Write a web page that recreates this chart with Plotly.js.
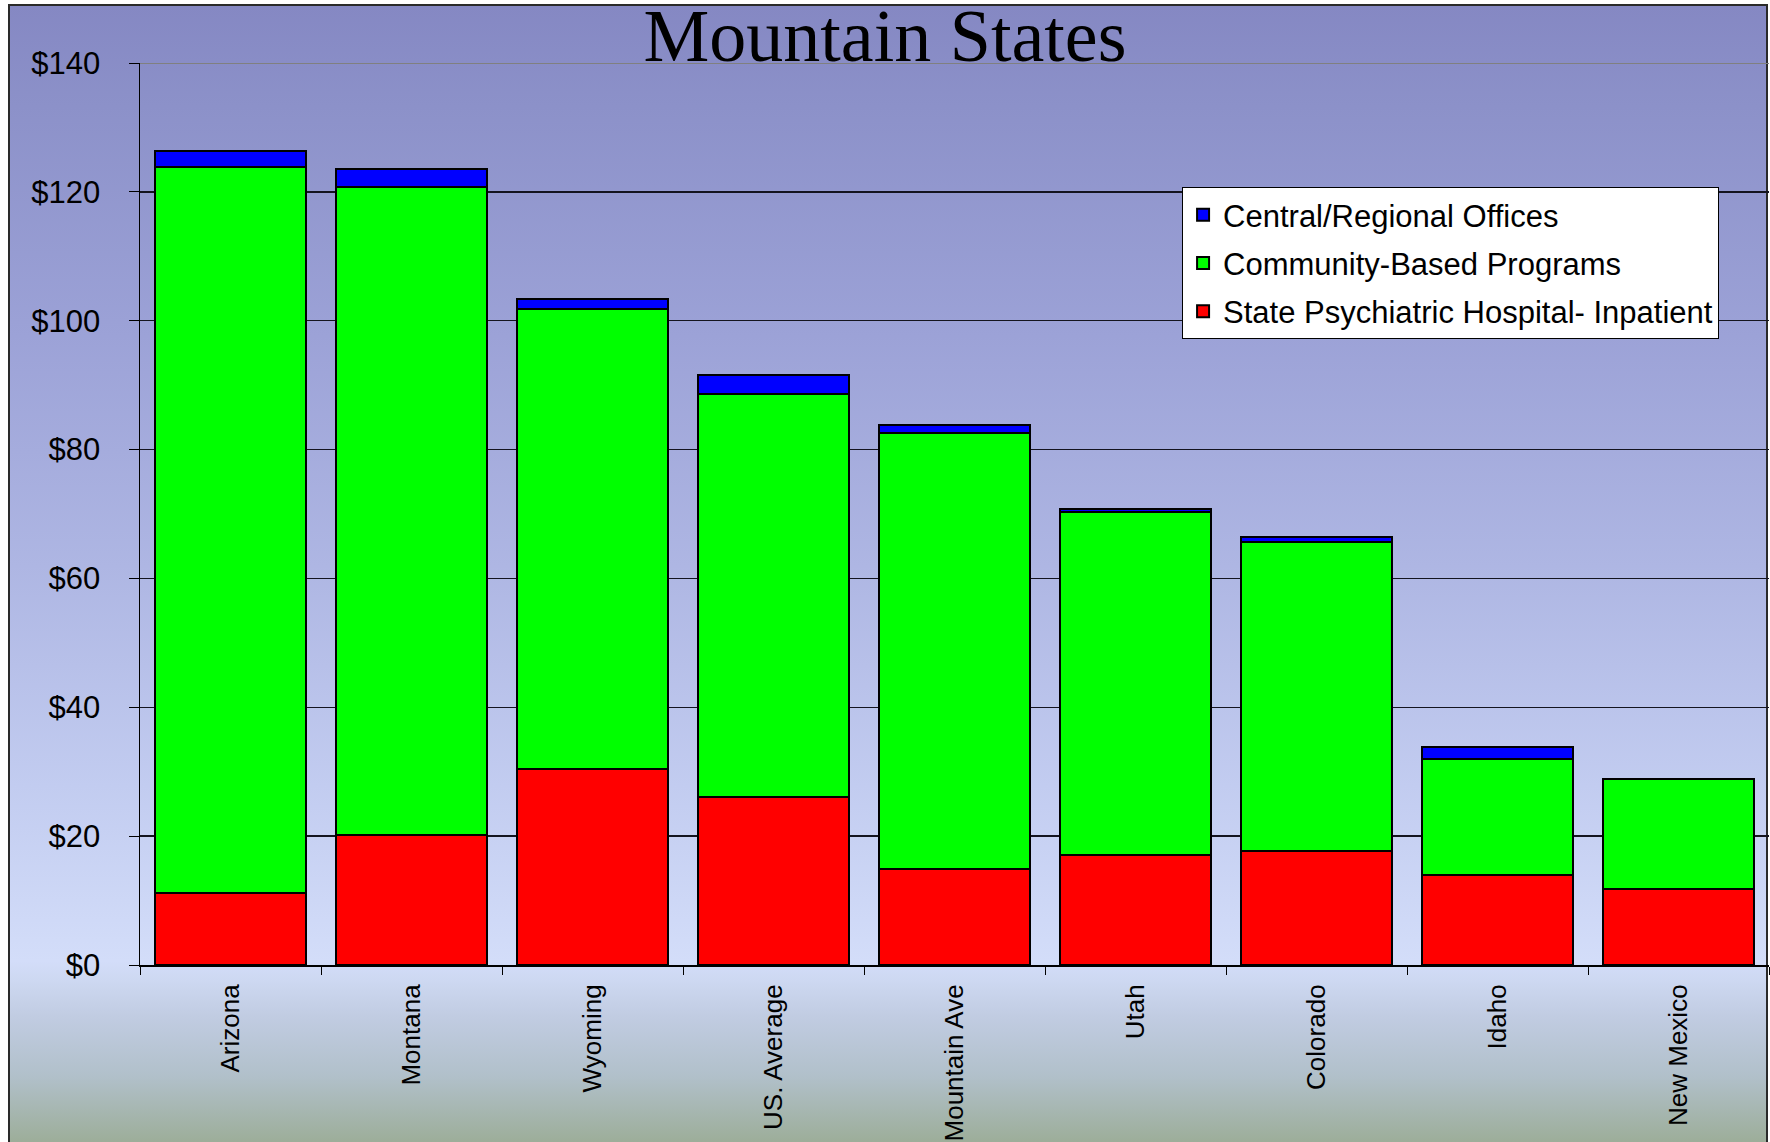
<!DOCTYPE html>
<html>
<head>
<meta charset="utf-8">
<script src="https://cdn.plot.ly/plotly-3.0.1.min.js"></script>
<style>
  html, body { margin: 0; padding: 0; background: #ffffff; }
  #wrap { position: relative; width: 1770px; height: 1142px; overflow: hidden; background: #ffffff; }
  #frame {
    position: absolute; left: 8px; top: 4px; width: 1760px; height: 1160px;
    border: 2px solid #2a2a2a; box-sizing: border-box;
    background: linear-gradient(to bottom,
      #8588C3 0px, #8C91C9 100px, #9CA2D7 330px, #AEB6E3 560px,
      #C2CCF0 780px, #D3DDF9 955px, #CDD8F1 975px, #C1CCE2 1010px,
      #B1C0CA 1070px, #9CAD98 1138px);
  }
  #chart { position: absolute; left: 0; top: 0; width: 1770px; height: 1142px; }
</style>
</head>
<body>
<div id="wrap">
  <div id="frame"></div>
  <div id="chart"></div>
</div>
<script>
const categories = ["Arizona", "Montana", "Wyoming", "US. Average", "Mountain Ave", "Utah", "Colorado", "Idaho", "New Mexico"];
const hospitalInpatient = [11.2, 20.2, 30.4, 26.1, 14.9, 17.1, 17.7, 14.0, 11.8];
const communityPrograms = [112.6, 100.5, 71.4, 62.6, 67.6, 53.2, 48.0, 17.9, 17.0];
const centralOffices = [2.5, 2.8, 1.6, 2.9, 1.3, 0.5, 0.7, 2.0, 0.0];
const yTicks = [0, 20, 40, 60, 80, 100, 120, 140];
const yTickLabels = ["$0", "$20", "$40", "$60", "$80", "$100", "$120", "$140"];

const outline = { color: "#000000", width: 2 };

const traces = [
  { type: "bar", name: "State Psychiatric Hospital- Inpatient", x: categories, y: hospitalInpatient,
    legendgroup: "g3", legendrank: 3, marker: { color: "#FF0000", line: outline } },
  { type: "bar", name: "Community-Based Programs", x: categories, y: communityPrograms,
    legendgroup: "g2", legendrank: 2, marker: { color: "#00FF00", line: outline } },
  { type: "bar", name: "Central/Regional Offices", x: categories, y: centralOffices,
    legendgroup: "g1", legendrank: 1, marker: { color: "#0000FF", line: outline } }
];

const layout = {
  width: 1770, height: 1142,
  paper_bgcolor: "rgba(0,0,0,0)",
  plot_bgcolor: "rgba(0,0,0,0)",
  margin: { l: 140, r: 1, t: 63, b: 177 },
  barmode: "stack",
  bargap: 0.165,
  showlegend: true,
  title: {
    text: "Mountain States",
    font: { family: "Liberation Serif, 'Times New Roman', serif", size: 74, color: "#000000" },
    x: 0.5, xref: "container", xanchor: "center",
    y: 0.969, yref: "container", yanchor: "middle"
  },
  font: { family: "Liberation Sans, Arial, sans-serif", color: "#000000" },
  xaxis: {
    type: "category",
    tickangle: -90,
    tickfont: { size: 26, family: "Liberation Sans, Arial, sans-serif", color: "#000000" },
    showline: true, linecolor: "#000000", linewidth: 2,
    ticks: "outside", tickson: "boundaries", ticklen: 8, tickcolor: "#000000", tickwidth: 1,
    showgrid: false, zeroline: false,
    ticklabelstandoff: 7
  },
  yaxis: {
    range: [0, 140],
    tickvals: yTicks, ticktext: yTickLabels,
    tickfont: { size: 31, family: "Liberation Sans, Arial, sans-serif", color: "#000000" },
    showline: true, linecolor: "#000000", linewidth: 1.5,
    ticks: "outside", ticklen: 10, tickcolor: "#000000", tickwidth: 1,
    showgrid: true, gridcolor: "#14141f", gridwidth: 1.4,
    zeroline: false,
    ticklabelstandoff: 22
  },
  legend: {
    x: 0.6397, xanchor: "left", y: 0.8625, yanchor: "top",
    bgcolor: "#FFFFFF", bordercolor: "#000000", borderwidth: 1,
    traceorder: "grouped",
    tracegroupgap: 5,
    font: { size: 31, family: "Liberation Sans, Arial, sans-serif", color: "#000000" },
    itemwidth: 30
  },
  shapes: [
    { type: "line", xref: "paper", yref: "y", x0: 0, x1: 1, y0: 140, y1: 140,
      line: { color: "#808080", width: 2 }, layer: "above" }
  ]
};

Plotly.newPlot("chart", traces, layout, { staticPlot: true, displayModeBar: false });
</script>
</body>
</html>
